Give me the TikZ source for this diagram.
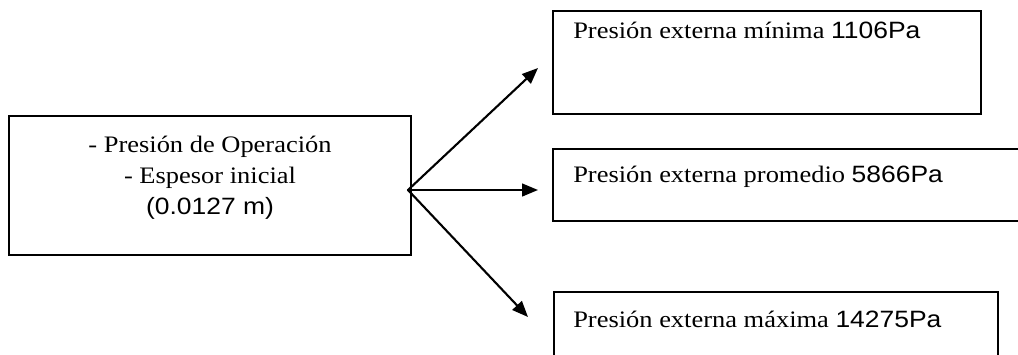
\documentclass[tikz,border=0pt]{standalone}
\usepackage{fontspec}
\setmainfont{Liberation Serif}[FakeStretch=1.12]
\newfontfamily\arial{Liberation Sans}[FakeStretch=1.12]
\usetikzlibrary{arrows.meta}

\begin{document}
\begin{tikzpicture}[line cap=round,
  caja/.style={draw, line width=1.2pt, inner sep=0pt, anchor=south west},
  texto/.style={font=\fontsize{16.8}{22}\selectfont, inner sep=0pt},
  flecha/.style={line width=1.5pt, -{Triangle[length=0.4cm, width=0.32cm]}}]
\useasboundingbox (0,0) rectangle (25.45,8.85);
% caja de entrada
\node[caja, minimum width=10.05cm, minimum height=3.475cm] (entrada) at (0.2,2.45) {};
\node[texto, align=center] (entradatxt) at (5.25,4.4)
  {- Presión de Operación\\- Espesor inicial\\{\arial(0.0127 m)}};
% cajas de salida
\node[caja, minimum width=10.7cm, minimum height=2.575cm] (minima) at (13.8,5.975) {};
\node[caja, minimum width=11.95cm, minimum height=1.8cm] (promedio) at (13.8,3.3) {};
\node[caja, minimum width=11.1cm, minimum height=1.925cm] (maxima) at (13.825,-0.4) {};
\node[texto, anchor=base west] (minimatxt) at (14.325,7.9)
  {Presión externa mínima {\arial 1106Pa}};
\node[texto, anchor=base west] (promediotxt) at (14.325,4.3)
  {Presión externa promedio {\arial 5866Pa}};
\node[texto, anchor=base west] (maximatxt) at (14.325,0.675)
  {Presión externa máxima {\arial 14275Pa}};
% flechas
\coordinate (salida) at (10.2,4.1);
\coordinate (pmin) at (13.45,7.15);
\coordinate (pprom) at (13.45,4.1);
\coordinate (pmax) at (13.2,0.925);
\draw[flecha] (salida) -- (pmin);
\draw[flecha] (salida) -- (pprom);
\draw[flecha] (salida) -- (pmax);
\end{tikzpicture}
\end{document}
